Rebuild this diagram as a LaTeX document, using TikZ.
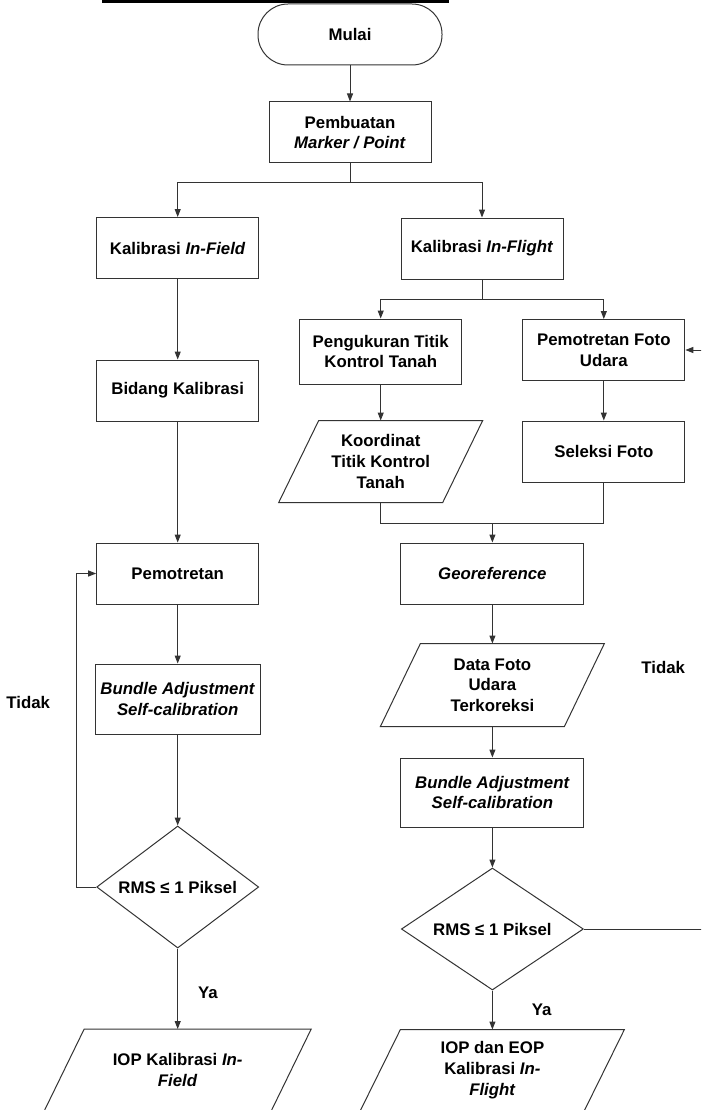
\documentclass[tikz,border=0pt]{standalone}
\usepackage{fontspec}
\setmainfont{Liberation Sans}
\usetikzlibrary{shapes.geometric, arrows.meta}

\begin{document}
\begin{tikzpicture}[
    font=\fontsize{16.8pt}{20.7pt}\selectfont\bfseries,
    line width=1pt, draw=black!80,
    >={Triangle[length=8pt,width=6pt]},
    proc/.style={rectangle, draw, align=center, inner sep=0pt, minimum width=162pt, minimum height=61pt},
    term/.style={rectangle, draw, rounded corners=30pt, inner sep=0pt, minimum width=184pt, minimum height=61pt},
    data/.style={rectangle, align=center, inner sep=0pt, minimum width=226pt, minimum height=81pt},
    decision/.style={diamond, draw, inner sep=0pt, aspect=1.32, minimum width=162pt, minimum height=122pt},
    lbl/.style={inner sep=0pt}
  ]
    \def\slant{20pt}
    \useasboundingbox (0,0) rectangle (701pt,-1110pt);
    \clip (0,0) rectangle (701pt,-1110pt);
    \fill[black] (102pt,0) rectangle (449pt,-3.5pt);

    \node[term] (mulai) at (350pt,-34.5pt) {Mulai};
    \node[proc, below of=mulai, node distance=98pt] (buat) {Pembuatan\\\textit{Marker / Point}};
    \node[proc, below of=buat, node distance=115.5pt, xshift=-172.3pt] (infield) {Kalibrasi \textit{In-Field}};
    \node[proc, below of=buat, node distance=116pt, xshift=132pt] (inflight) {Kalibrasi \textit{In-Flight}};

    % cabang kiri
    \node[proc, below of=infield, node distance=142.5pt] (bidang) {Bidang Kalibrasi};
    \node[proc, below of=bidang, node distance=183pt] (pemo) {Pemotretan};
    \node[proc, minimum width=165pt, minimum height=70pt, below of=pemo, node distance=125.5pt] (bundlekiri) {\textit{Bundle Adjustment}\\\textit{Self-calibration}};
    \node[decision, below of=bundlekiri, node distance=188pt] (rmskiri) {RMS ≤ 1 Piksel};
    \node[data, below of=rmskiri, node distance=183pt] (iopkiri) {IOP Kalibrasi \textit{In-}\\\textit{Field}};

    % cabang kanan
    \node[proc, minimum height=65pt, below of=inflight, node distance=103pt, xshift=-101.3pt] (ukur) {Pengukuran Titik\\Kontrol Tanah};
    \node[proc, below of=inflight, node distance=101.5pt, xshift=121.8pt] (udara) {Pemotretan Foto\\Udara};
    \node[data, minimum width=163pt, below of=ukur, node distance=110pt] (koord) {Koordinat\\Titik Kontrol\\Tanah};
    \node[proc, below of=udara, node distance=101.5pt] (seleksi) {Seleksi Foto};
    \node[proc, minimum width=183pt, below of=inflight, node distance=325pt, xshift=10.4pt] (geo) {\textit{Georeference}};
    \node[data, minimum width=183pt, minimum height=82pt, below of=geo, node distance=111.5pt] (foto) {Data Foto\\Udara\\Terkoreksi};
    \node[proc, minimum width=183pt, minimum height=69pt, below of=foto, node distance=107.5pt] (bundlekanan) {\textit{Bundle Adjustment}\\\textit{Self-calibration}};
    \node[decision, aspect=1.49, minimum width=182pt, below of=bundlekanan, node distance=136.5pt] (rmskanan) {RMS ≤ 1 Piksel};
    \node[data, minimum width=223pt, minimum height=80pt, below of=rmskanan, node distance=141pt] (iopkanan) {IOP dan EOP\\Kalibrasi \textit{In-}\\\textit{Flight}};

    % jajar genjang untuk data
    \foreach \n in {koord, foto, iopkiri, iopkanan}
      \draw ([xshift=\slant]\n.north west) -- ([xshift=\slant]\n.north east)
        -- ([xshift=-\slant]\n.south east) -- ([xshift=-\slant]\n.south west) -- cycle;

    \draw[->] (mulai) -- (buat);
    \draw[->] (buat.south) -- ++(0,-19.5pt) -| (infield.north);
    \draw[->] (buat.south) -- ++(0,-19.5pt) -| (inflight.north);
    \draw[->] (inflight.south) -- ++(0,-19.5pt) -| (ukur.north);
    \draw[->] (inflight.south) -- ++(0,-19.5pt) -| (udara.north);

    \draw[->] (infield) -- (bidang);
    \draw[->] (bidang) -- (pemo);
    \draw[->] (pemo) -- (bundlekiri);
    \draw[->] (bundlekiri) -- (rmskiri);
    \draw[->] (rmskiri) -- (iopkiri.north) node[lbl, pos=0.55, right=20pt] {Ya};
    \draw[->] (rmskiri.west) -- ++(-19.7pt,0) |- (pemo.west) node[lbl, pos=0.295, left=26pt] {Tidak};

    \draw[->] (ukur) -- (koord.north);
    \draw[->] (udara) -- (seleksi);
    \draw (koord.south) -- ++(0,-20.5pt) coordinate (gabung) -| (seleksi.south);
    \draw[->] (gabung -| geo.north) -- (geo.north);
    \draw[->] (geo) -- (foto.north);
    \draw[->] (foto.south) -- (bundlekanan);
    \draw[->] (bundlekanan) -- (rmskanan);
    \draw[->] (rmskanan) -- (iopkanan.north) node[lbl, midway, right=39pt] {Ya};
    \draw[->] (rmskanan.east) -- ++(136.6pt,0) coordinate (kanan) |- (udara.east) node[lbl, pos=0.226, left=35pt] {Tidak};
\end{tikzpicture}
\end{document}
